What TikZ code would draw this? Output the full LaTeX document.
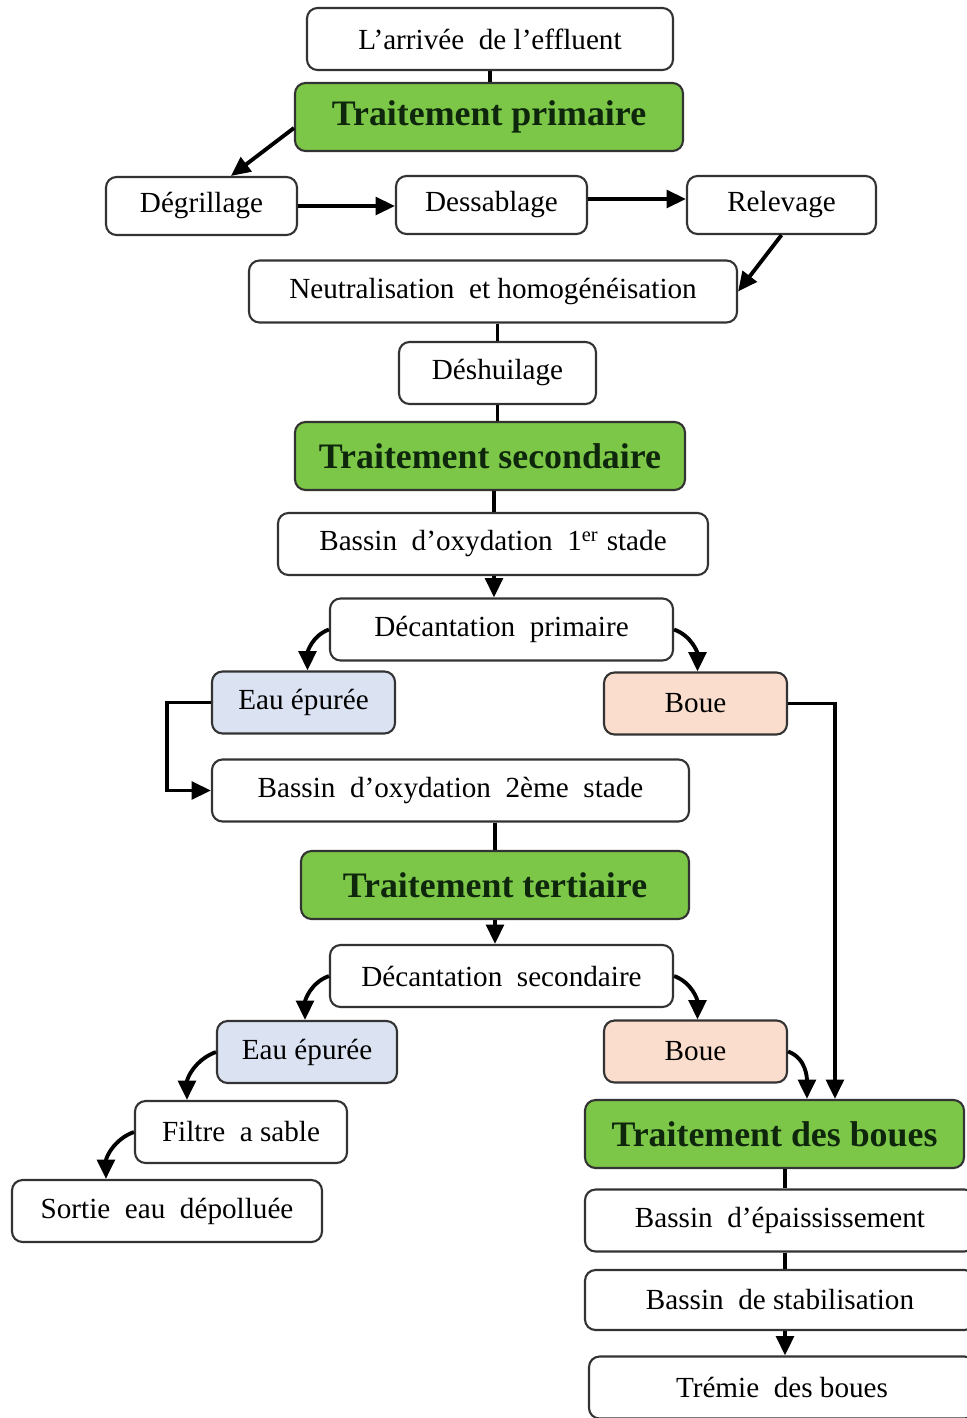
\documentclass[tikz,border=0pt]{standalone}
\usepackage{fontspec}
\setmainfont{Liberation Serif}
\usepackage{tikz}
\usetikzlibrary{positioning}
\usetikzlibrary{arrows.meta}

\definecolor{titlegreen}{RGB}{125,199,72}
\definecolor{titletext}{RGB}{14,38,12}
\definecolor{waterblue}{RGB}{219,227,243}
\definecolor{sludgeorange}{RGB}{250,221,204}

\begin{document}
\begin{tikzpicture}

    \tikzset{
        stepbox/.style={
            draw=black!80,
            line width=0.6pt,
            rounded corners=3pt,
            fill=white,
            inner sep=0pt,
            minimum height=0.62cm,
            font=\fontsize{8.3}{10}\selectfont
        },
        titlebox/.style={
            stepbox,
            fill=titlegreen,
            minimum height=0.68cm,
            text=titletext,
            font=\fontsize{10.2}{12}\selectfont\bfseries
        },
        waterbox/.style={stepbox, fill=waterblue},
        sludgebox/.style={stepbox, fill=sludgeorange},
        link/.style={line width=1.1pt},
        flow/.style={link, -{Triangle[length=5.5pt,width=5pt]}}
    }

    \useasboundingbox (0,0) rectangle (9.66,-14.18);

    \node[stepbox, minimum width=3.66cm] (ar) at (4.90,-0.39) {L’arrivée\ \ de l’effluent};
    \node[titlebox, minimum width=3.88cm] (tp) at (4.89,-1.17) {Traitement primaire};
    \node[stepbox, minimum width=1.91cm, minimum height=0.58cm] (dg) at (2.015,-2.06) {Dégrillage};
    \node[stepbox, minimum width=1.91cm, minimum height=0.58cm] (ds) at (4.915,-2.05) {Dessablage};
    \node[stepbox, minimum width=1.89cm, minimum height=0.58cm] (rl) at (7.815,-2.05) {Relevage};
    \node[stepbox, minimum width=4.88cm] (nh) at (4.93,-2.915) {Neutralisation\ \ et homogénéisation};
    \node[stepbox, minimum width=1.97cm] (dh) at (4.975,-3.73) {Déshuilage};
    \node[titlebox, minimum width=3.90cm] (ts) at (4.90,-4.56) {Traitement secondaire};
    \node[stepbox, minimum width=4.30cm] (b1) at (4.93,-5.44) {Bassin\ \ d’oxydation\ \ 1\textsuperscript{er} stade};
    \node[stepbox, minimum width=3.43cm] (dp) at (5.015,-6.295) {Décantation\ \ primaire};
    \node[waterbox, minimum width=1.83cm] (ee1) at (3.035,-7.025) {Eau épurée};
    \node[sludgebox, minimum width=1.83cm] (bo1) at (6.955,-7.035) {Boue};
    \node[stepbox, minimum width=4.77cm] (b2) at (4.505,-7.905) {Bassin\ \ d’oxydation\ \ 2ème\ \ stade};
    \node[titlebox, minimum width=3.88cm] (tt) at (4.95,-8.85) {Traitement tertiaire};
    \node[stepbox, minimum width=3.43cm] (dsec) at (5.015,-9.76) {Décantation\ \ secondaire};
    \node[waterbox, minimum width=1.80cm] (ee2) at (3.07,-10.52) {Eau épurée};
    \node[sludgebox, minimum width=1.83cm] (bo2) at (6.955,-10.515) {Boue};
    \node[stepbox, minimum width=2.12cm] (fs) at (2.41,-11.32) {Filtre\ \ a sable};
    \node[stepbox, minimum width=3.10cm] (so) at (1.67,-12.11) {Sortie\ \ eau\ \ dépolluée};
    \node[titlebox, minimum width=3.79cm] (tb) at (7.745,-11.34) {Traitement des boues};
    \node[stepbox, minimum width=3.90cm] (be) at (7.80,-12.205) {Bassin\ \ d’épaississement};
    \node[stepbox, minimum width=3.90cm, minimum height=0.60cm] (bs) at (7.80,-13.00) {Bassin\ \ de stabilisation};
    \node[stepbox, minimum width=3.86cm] (tr) at (7.82,-13.875) {Trémie\ \ des boues};

    \coordinate (tbin) at ([xshift=2.51cm]tb.north west);

    \draw[link] (ar.south) -- (ar.south |- tp.north);
    \draw[flow] ([yshift=-0.11cm]tp.west) -- ([xshift=1.26cm]dg.north west);
    \draw[flow] (dg.east) -- (dg.east -| ds.west);
    \draw[flow] ([yshift=0.06cm]ds.east) -- ([yshift=0.06cm]rl.west);
    \draw[flow] (rl.south) -- (nh.east);
    \draw[link] (dh.north |- nh.south) -- (dh.north);
    \draw[link] (dh.south) -- (dh.south |- ts.north);
    \draw[link] ([xshift=0.04cm]ts.south) -- ([xshift=0.04cm]ts.south |- b1.north);
    \draw[flow] ([xshift=0.01cm]b1.south) -- ([xshift=0.01cm]b1.south |- dp.north);
    \draw[flow] (dp.west) to[out=200, in=90] ([xshift=0.04cm]ee1.north);
    \draw[flow] (dp.east) to[out=-20, in=90] ([xshift=0.02cm]bo1.north);
    \draw[flow] (ee1.west) -- ++(-0.44,0) |- (b2.west);
    \draw[flow] (bo1.east) -| (tbin);
    \draw[link] (tt.north |- b2.south) -- (tt.north);
    \draw[flow] (tt.south) -- (tt.south |- dsec.north);
    \draw[flow] (dsec.west) to[out=200, in=90] ([xshift=-0.02cm]ee2.north);
    \draw[flow] (dsec.east) to[out=-20, in=90] ([xshift=0.02cm]bo2.north);
    \draw[flow] (ee2.west) to[out=200, in=90] ([xshift=0.53cm]fs.north west);
    \draw[flow] (fs.west) to[out=200, in=90] ([xshift=0.95cm]so.north west);
    \draw[flow] (bo2.east) to[out=-20, in=90] ([xshift=2.23cm]tb.north west);
    \draw[link] ([xshift=0.05cm]be.north |- tb.south) -- ([xshift=0.05cm]be.north);
    \draw[link] ([xshift=0.05cm]be.south) -- ([xshift=0.05cm]be.south |- bs.north);
    \draw[flow] ([xshift=0.05cm]bs.south) -- ([xshift=0.05cm]bs.south |- tr.north);

\end{tikzpicture}
\end{document}
